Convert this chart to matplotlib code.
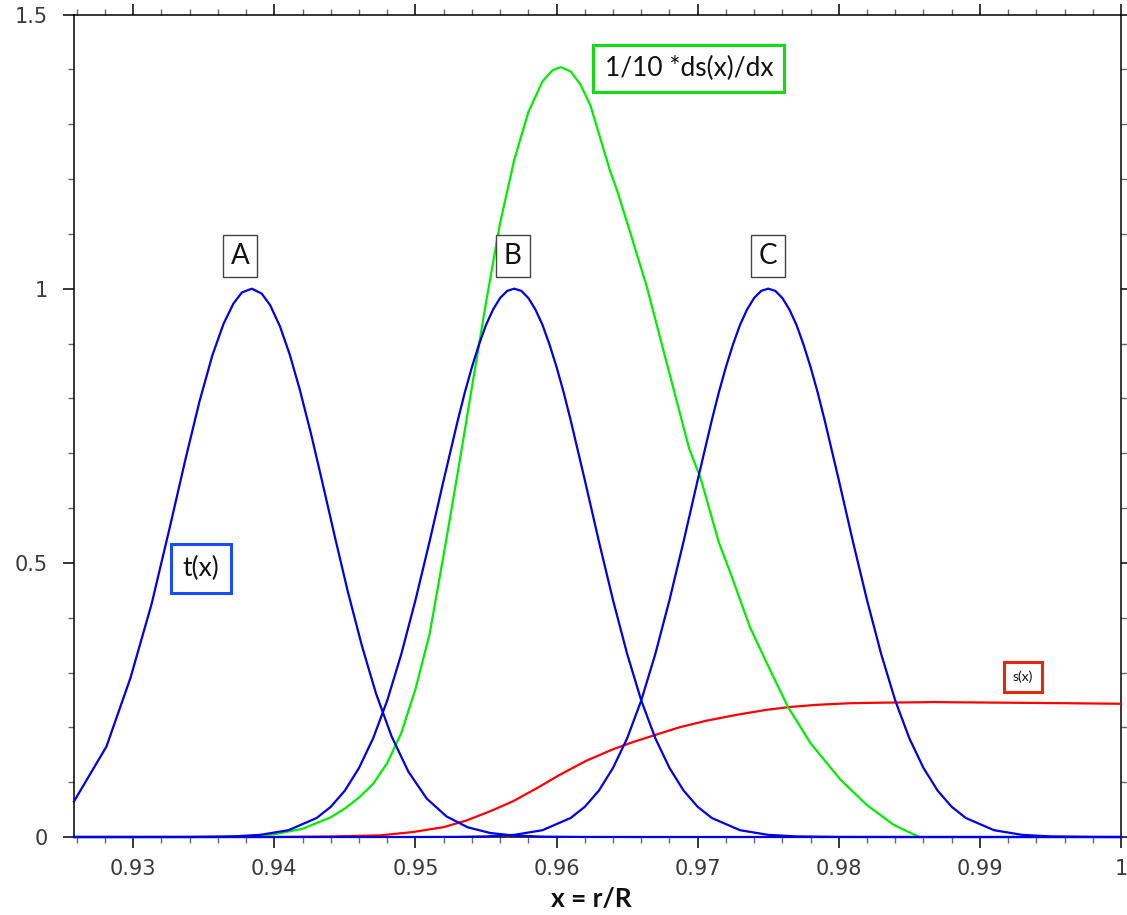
import matplotlib
matplotlib.use("Agg")
import matplotlib.pyplot as plt
from matplotlib.ticker import MultipleLocator

# ------------------------------------------------------------
# Profiles across the outer shell, x = r/R
# ------------------------------------------------------------
# t(x), first peak (A) - coarse sampling
t_a_x = [0.9258, 0.9281, 0.9298, 0.9313, 0.9326, 0.9337, 0.9347, 0.9356,
         0.9364, 0.9371, 0.9377, 0.9384, 0.9391, 0.9397, 0.9404, 0.9411,
         0.9418, 0.9426, 0.9434, 0.9443, 0.9452, 0.9462, 0.9472, 0.9483,
         0.9495, 0.9508, 0.9522, 0.9537, 0.9553, 0.9570, 0.9590, 0.9620,
         0.9660, 0.9800, 1.0000]
t_a_y = [0.065, 0.165, 0.290, 0.425, 0.566, 0.689, 0.795, 0.878,
         0.936, 0.973, 0.993, 1.000, 0.991, 0.970, 0.931, 0.879,
         0.816, 0.735, 0.647, 0.546, 0.448, 0.349, 0.262, 0.184,
         0.119, 0.070, 0.0375, 0.0177, 0.0073, 0.0026, 0.0007, 0.0001,
         0.0, 0.0, 0.0]

# t(x), second peak (B)
t_b_x = [0.9258, 0.9300, 0.9340, 0.9370, 0.9390, 0.9410, 0.9430, 0.9440,
         0.9450, 0.9460, 0.9470, 0.9480, 0.9490, 0.9500, 0.9510, 0.9520,
         0.9530, 0.9535, 0.9540, 0.9545, 0.9550, 0.9555, 0.9560, 0.9565,
         0.9570, 0.9575, 0.9580, 0.9585, 0.9590, 0.9595, 0.9600, 0.9605,
         0.9610, 0.9620, 0.9630, 0.9640, 0.9650, 0.9660, 0.9670, 0.9680,
         0.9690, 0.9700, 0.9710, 0.9730, 0.9750, 0.9770, 0.9800, 0.9850,
         1.0000]
t_b_y = [0.0, 0.0, 0.0001, 0.00105, 0.0039, 0.0124, 0.0347, 0.0551,
         0.0847, 0.126, 0.180, 0.249, 0.334, 0.432, 0.539, 0.651,
         0.760, 0.811, 0.857, 0.898, 0.934, 0.962, 0.983, 0.996,
         1.000, 0.996, 0.983, 0.962, 0.934, 0.898, 0.857, 0.811,
         0.760, 0.651, 0.539, 0.432, 0.334, 0.249, 0.180, 0.126,
         0.0847, 0.0551, 0.0347, 0.0124, 0.0039, 0.00105, 0.0001, 0.0,
         0.0]

# t(x), third peak (C)
t_c_x = [0.9258, 0.9400, 0.9500, 0.9530, 0.9550, 0.9570, 0.9590, 0.9610,
         0.9620, 0.9630, 0.9640, 0.9650, 0.9660, 0.9670, 0.9680, 0.9690,
         0.9700, 0.9710, 0.9715, 0.9720, 0.9725, 0.9730, 0.9735, 0.9740,
         0.9745, 0.9750, 0.9755, 0.9760, 0.9765, 0.9770, 0.9775, 0.9780,
         0.9785, 0.9790, 0.9800, 0.9810, 0.9820, 0.9830, 0.9840, 0.9850,
         0.9860, 0.9870, 0.9880, 0.9890, 0.9910, 0.9930, 0.9950, 0.9980,
         1.0000]
t_c_y = [0.0, 0.0, 0.0, 0.00025, 0.00105, 0.0039, 0.0124, 0.0347,
         0.0551, 0.0847, 0.126, 0.180, 0.249, 0.334, 0.432, 0.539,
         0.651, 0.760, 0.811, 0.857, 0.898, 0.934, 0.962, 0.983,
         0.996, 1.000, 0.996, 0.983, 0.962, 0.934, 0.898, 0.857,
         0.811, 0.760, 0.651, 0.539, 0.432, 0.334, 0.249, 0.180,
         0.126, 0.0847, 0.0551, 0.0347, 0.0124, 0.0039, 0.00105, 0.0001,
         0.0]

# 1/10 * ds(x)/dx
ds_x = [0.9258, 0.9360, 0.9380, 0.9400, 0.9420, 0.9440, 0.9450, 0.9460,
        0.9470, 0.9480, 0.9490, 0.9500, 0.9510, 0.9520, 0.9530, 0.9540,
        0.9550, 0.9560, 0.9570, 0.9580, 0.9590, 0.9597, 0.9603, 0.9610,
        0.9617, 0.9624, 0.9638, 0.9643, 0.9652, 0.9664, 0.9678, 0.9694,
        0.9702, 0.9715, 0.9723, 0.9737, 0.9749, 0.9764, 0.9780, 0.9801,
        0.9820, 0.9839, 0.9857]
ds_y = [0.0, 0.0, 0.001, 0.005, 0.015, 0.036, 0.052, 0.072,
        0.097, 0.135, 0.190, 0.270, 0.370, 0.515, 0.665, 0.820,
        0.975, 1.120, 1.235, 1.322, 1.378, 1.398, 1.404, 1.396,
        1.372, 1.334, 1.214, 1.178, 1.104, 1.003, 0.865, 0.708,
        0.655, 0.537, 0.483, 0.383, 0.317, 0.237, 0.171, 0.105,
        0.058, 0.022, 0.0]

# s(x)
s_x = [0.9258, 0.9400, 0.9440, 0.9475, 0.9498, 0.9520, 0.9536, 0.9553,
       0.9569, 0.9586, 0.9602, 0.9621, 0.9640, 0.9654, 0.9671, 0.9687,
       0.9706, 0.9728, 0.9749, 0.9765, 0.9784, 0.9808, 0.9831, 0.9867,
       0.9914, 0.9961, 1.0000]
s_y = [0.0, 0.0, 0.001, 0.003, 0.009, 0.018, 0.030, 0.047,
       0.065, 0.089, 0.113, 0.139, 0.160, 0.173, 0.187, 0.200,
       0.212, 0.223, 0.232, 0.237, 0.241, 0.244, 0.245, 0.246,
       0.245, 0.244, 0.243]

# peak markers and curve labels
peak_names = ["A", "B", "C"]
peak_pos = [0.93756, 0.95690, 0.97498]

BLUE = "#0000e6"
GREEN = "#00ee00"
RED = "#ff0000"
LABEL_FONT = "Lato"

fig = plt.figure(figsize=(11.27, 9.15), dpi=100)
ax = fig.add_axes([74 / 1127, 1 - 837 / 915, (1121 - 74) / 1127, (837 - 14.5) / 915])

ax.plot(s_x, s_y, color=RED, lw=1.6, zorder=3, clip_on=False)
ax.plot(ds_x, ds_y, color=GREEN, lw=1.6, zorder=3, clip_on=False)
for xs, ys in [(t_a_x, t_a_y), (t_b_x, t_b_y), (t_c_x, t_c_y)]:
    ax.plot(xs, ys, color=BLUE, lw=1.6, zorder=4, clip_on=False)

ax.set_xlim(0.9258, 1.0)
ax.set_ylim(0, 1.5)

ax.xaxis.set_major_locator(MultipleLocator(0.01))
ax.xaxis.set_minor_locator(MultipleLocator(0.002))
ax.yaxis.set_major_locator(MultipleLocator(0.5))
ax.yaxis.set_minor_locator(MultipleLocator(0.1))
ax.xaxis.set_major_formatter(plt.FuncFormatter(lambda v, p: f"{v:.2f}" if v < 0.9999 else "1"))
ax.yaxis.set_major_formatter(plt.FuncFormatter(lambda v, p: f"{v:g}"))

ax.tick_params(which="both", direction="out", top=True, right=True,
               labeltop=False, labelright=False)
ax.tick_params(which="major", length=8, width=1.1, color="black",
               labelsize=15, labelcolor="#3a3a3a")
ax.tick_params(which="minor", length=4.5, width=1.0, color="#666666")
ax.tick_params(axis="x", which="major", pad=8)
ax.tick_params(axis="y", which="major", pad=11)
for lab in ax.get_xticklabels() + ax.get_yticklabels():
    lab.set_family("DejaVu Sans")
for sp in ax.spines.values():
    sp.set_linewidth(1.1)
    sp.set_zorder(2)

# peak labels
for name, xp in zip(peak_names, peak_pos):
    ax.text(xp, 1.06, name, ha="center", va="center", fontsize=20,
            family=LABEL_FONT, color="#111111", zorder=6,
            bbox=dict(boxstyle="square,pad=0.28", fc="white", ec="#444444", lw=1.0))

ax.text(0.93481, 0.489, "t(x)", ha="center", va="center", fontsize=19,
        family=LABEL_FONT, color="#111111", zorder=6,
        bbox=dict(boxstyle="square,pad=0.45", fc="white", ec="#1a4cff", lw=2.2))
ax.text(0.96937, 1.401, "1/10 *ds(x)/dx", ha="center", va="center", fontsize=19,
        family=LABEL_FONT, color="#111111", zorder=6,
        bbox=dict(boxstyle="square,pad=0.42", fc="white", ec="#11dd11", lw=2.2))
ax.text(0.99304, 0.292, "s(x)", ha="center", va="center", fontsize=10,
        family=LABEL_FONT, color="#111111", zorder=6,
        bbox=dict(boxstyle="square,pad=0.65", fc="white", ec="#e02a10", lw=2.2))

fig.text(591 / 1127, 1 - 899 / 915, "x = r/R", ha="center", va="center",
         fontsize=19, family=LABEL_FONT, fontweight="bold", color="#111111")

fig.savefig("out.png", dpi=100)
